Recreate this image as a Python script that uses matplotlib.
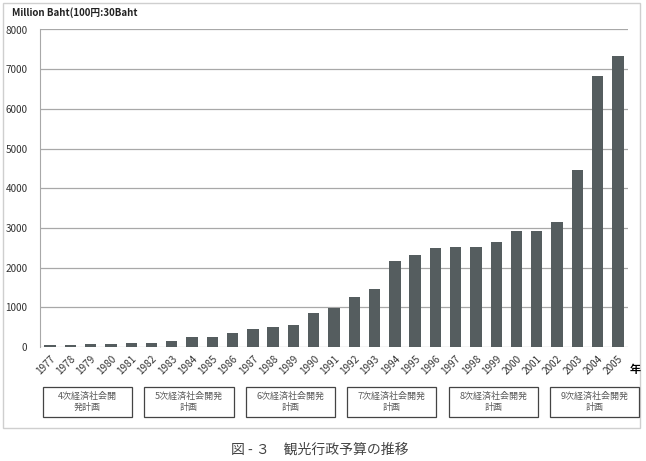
import numpy as np
import matplotlib.pyplot as plt
from matplotlib.patches import Rectangle
import matplotlib.transforms as mtransforms

plt.rcParams['font.family'] = ['Noto Sans CJK JP', 'DejaVu Sans']

years = list(range(1977, 2006))
budget = [51, 51, 69, 69, 111, 111, 154, 240, 256, 343, 446, 497, 549, 856, 995,
          1260, 1461, 2166, 2310, 2486, 2526, 2526, 2652, 2914, 2914, 3156, 4458, 6818, 7338]

plan_labels = ['4次経済社会開\n発計画', '5次経済社会開発\n計画', '6次経済社会開発\n計画',
               '7次経済社会開発\n計画', '8次経済社会開発\n計画', '9次経済社会開発\n計画']
plan_start = [1977, 1982, 1987, 1992, 1997, 2002]

fig = plt.figure(figsize=(6.46, 4.61), dpi=100)
ax = fig.add_axes([40/646, 1-347/461, 588/646, (347-29.5)/461])

x = np.arange(len(years))
ax.bar(x, budget, width=0.56, color='#555d5f', zorder=3)
ax.set_xlim(-0.5, len(years)-0.5)
ax.set_ylim(0, 8000)
ax.set_yticks(range(0, 8001, 1000))
ax.yaxis.grid(True, color='#a8a8a8', linewidth=0.9, zorder=0)
ax.set_xticks(x)
ax.set_xticklabels([str(y) for y in years], rotation=45, ha='right',
                   rotation_mode='anchor', fontsize=7.2, color='#333333')
ax.tick_params(axis='x', length=0, pad=5)
ax.tick_params(axis='y', length=0, labelsize=7.2, labelcolor='#333333', pad=9)
for s in ['top', 'right', 'bottom']:
    ax.spines[s].set_visible(False)
ax.spines['left'].set_color('#a8a8a8')

# outer frame
fig.patches.append(Rectangle((3/646, 1-428/461), 637/646, 425/461, transform=fig.transFigure,
                             fill=False, edgecolor='#cfcfcf', linewidth=1))

fig.text(12/646, 1-13/461, 'Million Baht(100円:30Baht', fontsize=7, fontweight='bold',
         va='center', ha='left', color='#222222')
fig.text(630/646, 1-369/461, '年', fontsize=8, fontweight='bold', va='center', ha='left')

trans = mtransforms.blended_transform_factory(ax.transData, fig.transFigure)
for lbl, st in zip(plan_labels, plan_start):
    cx = years.index(st) + 1.85
    w = 4.4
    r = Rectangle((cx - w/2, 1-417/461), w, 30/461, transform=trans, fill=False,
                  edgecolor='#444444', linewidth=0.9, clip_on=False)
    fig.patches.append(r)
    fig.text(cx, 1-402/461, lbl, transform=trans, ha='center', va='center',
             fontsize=6.5, color='#5a5a5a', linespacing=1.35)

fig.text(320/646, 1-450/461, '図 - ３　観光行政予算の推移', fontsize=10, ha='center',
         va='center', color='#444444')

fig.savefig('out.png', dpi=100)
